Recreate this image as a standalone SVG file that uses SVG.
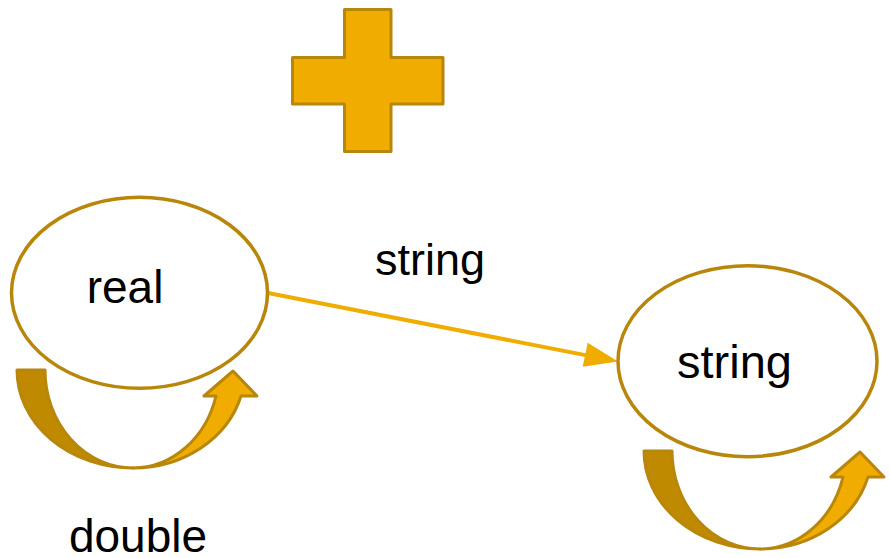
<svg xmlns="http://www.w3.org/2000/svg" width="890" height="558" viewBox="0 0 890 558">
<style>
.node{fill:#fff;stroke:#B8860B;stroke-width:3.5}
.lbl{font-family:"Liberation Sans",Arial,sans-serif;font-size:46px;fill:#000;text-anchor:middle}
.gold{fill:#F0AD00;stroke:#B8860B;stroke-width:3;stroke-linejoin:round}
.dark{fill:#BF8A00;stroke:#B8860B;stroke-width:3;stroke-linejoin:round}
.edge{stroke:#F0AD00;stroke-width:4;fill:none}
</style>
<defs>
<g id="loop">
<path class="dark" d="M17,370 L45,370 A88,98 0 0 0 133,468 A116,98 0 0 1 17,370 Z"/>
<path class="gold" d="M133,468 A112,98 0 0 0 241,396 L257,396 L233,371 L204,396 L216,396 A86,98 0 0 1 133,468 Z"/>
</g>
</defs>
<g id="plus">
<path class="gold" d="M344.5,9.5 H391 V57.5 H443 V104 H391 V151.5 H344.5 V104 H292.5 V57.5 H344.5 Z"/>
</g>
<g id="connectors">
<line class="edge" x1="268" y1="293" x2="588" y2="355.6"/>
<polygon fill="#F0AD00" points="618,361.5 587.7,342.7 582.7,366.7"/>
<text class="lbl" x="430" y="275" style="font-size:45px">string</text>
</g>
<g id="node-real">
<ellipse class="node" cx="139.5" cy="292.8" rx="128" ry="95.5"/>
<text class="lbl" x="125" y="303">real</text>
</g>
<g id="loop-real">
<use href="#loop"/>
<text class="lbl" x="138" y="552">double</text>
</g>
<g id="node-string">
<ellipse class="node" cx="747.5" cy="361.2" rx="129.5" ry="95.5"/>
<text class="lbl" x="734.5" y="378" style="font-size:47px">string</text>
</g>
<g id="loop-string">
<use href="#loop" transform="translate(627,81)"/>
</g>
</svg>
